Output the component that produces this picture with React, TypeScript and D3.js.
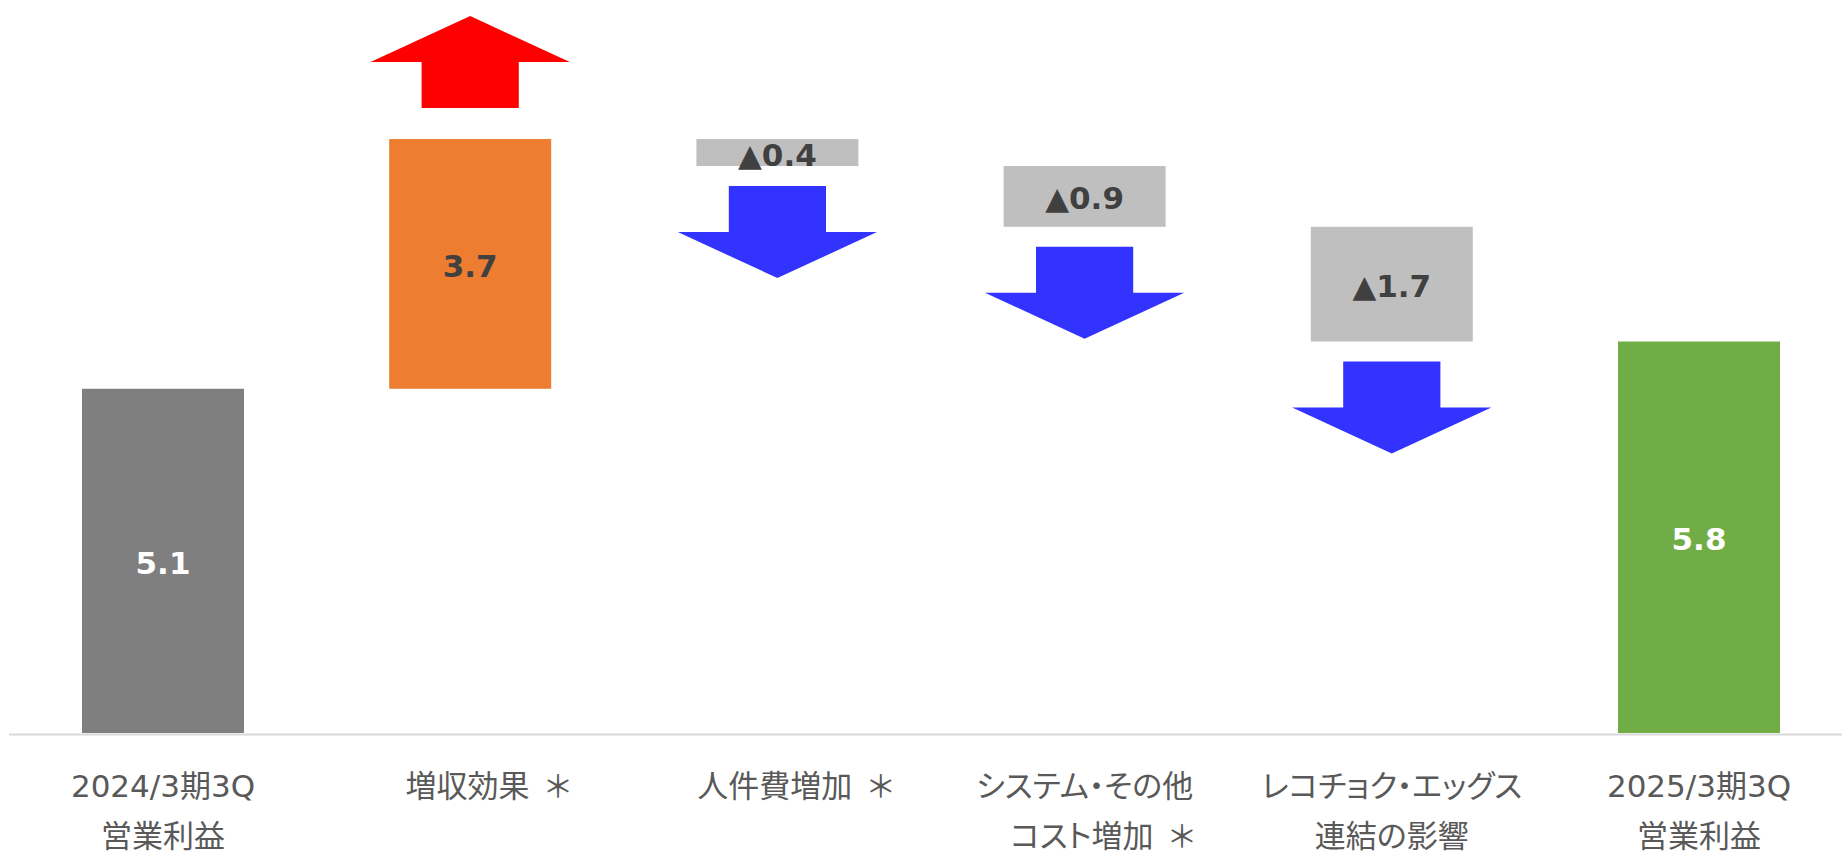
import React from "react";
import * as d3 from "d3";

// ---- data ----
const categoryIds = ["prev", "sales", "labor", "system", "recochoku", "curr"];
const categoryLines: string[][] = [
  ["2024/3期3Q", "営業利益"],
  ["増収効果 ＊"],
  ["人件費増加 ＊"],
  ["システム・その他", "コスト増加 ＊"],
  ["レコチョク・エッグス", "連結の影響"],
  ["2025/3期3Q", "営業利益"],
];
const kinds = ["total", "increase", "decrease", "decrease", "decrease", "total"];
const values = [5.1, 3.7, -0.4, -0.9, -1.7, 5.8];
const valueLabels = ["5.1", "3.7", "▲0.4", "▲0.9", "▲1.7", "5.8"];
const barColors = ["#7F7F7F", "#ED7D31", "#BFBFBF", "#BFBFBF", "#BFBFBF", "#70AD47"];
const labelColors = ["#FFFFFF", "#404040", "#404040", "#404040", "#404040", "#FFFFFF"];

const W = 1842;
const H = 854;

export default function App() {
  const baseY = 733;
  const y = d3.scaleLinear().domain([0, 10.86]).range([baseY, 0]);
  const x = d3
    .scaleBand<string>()
    .domain(categoryIds)
    .range([9.4, 1852.6])
    .paddingInner(0.4727)
    .paddingOuter(0.23635);
  const bw = x.bandwidth();

  // waterfall segments
  let cum = 0;
  const segs = values.map((v, i) => {
    let start: number, end: number;
    if (kinds[i] === "total") {
      start = 0;
      end = v;
      cum = v;
    } else {
      start = cum;
      end = cum + v;
      cum = end;
    }
    return { id: categoryIds[i], start, end, kind: kinds[i], i };
  });

  const arrowW = bw * 1.23;
  const shaftW = bw * 0.6;
  const headH = 46;
  const arrowLen = 92;

  function arrowPath(cx: number, top: number, bottom: number, up: boolean) {
    const p = d3.path();
    if (up) {
      const hb = top + headH;
      p.moveTo(cx, top);
      p.lineTo(cx + arrowW / 2, hb);
      p.lineTo(cx + shaftW / 2, hb);
      p.lineTo(cx + shaftW / 2, bottom);
      p.lineTo(cx - shaftW / 2, bottom);
      p.lineTo(cx - shaftW / 2, hb);
      p.lineTo(cx - arrowW / 2, hb);
    } else {
      const hb = bottom - headH;
      p.moveTo(cx - shaftW / 2, top);
      p.lineTo(cx + shaftW / 2, top);
      p.lineTo(cx + shaftW / 2, hb);
      p.lineTo(cx + arrowW / 2, hb);
      p.lineTo(cx, bottom);
      p.lineTo(cx - arrowW / 2, hb);
      p.lineTo(cx - shaftW / 2, hb);
    }
    p.closePath();
    return p.toString();
  }

  const labelFont = "'DejaVu Sans', 'Noto Sans CJK JP', sans-serif";
  const numFont = "'DejaVu Sans', 'Noto Sans CJK JP', sans-serif";

  return (
    <svg
      width={W}
      height={H}
      style={{ position: "absolute", left: 0, top: 0, display: "block", background: "#fff" }}
    >
      <line x1={9} x2={W} y1={baseY + 1.5} y2={baseY + 1.5} stroke="#D9D9D9" strokeWidth={2} />
      {segs.map((s) => {
        const x0 = x(s.id)!;
        const yTop = y(Math.max(s.start, s.end));
        const yBot = y(Math.min(s.start, s.end));
        const cx = x0 + bw / 2;
        return (
          <g key={s.id}>
            <rect x={x0} y={yTop} width={bw} height={yBot - yTop} fill={barColors[s.i]} />
            <text
              x={cx}
              y={(yTop + yBot) / 2 + 2}
              textAnchor="middle"
              dominantBaseline="central"
              fontFamily={numFont}
              fontWeight="bold"
              fontSize={31}
              fill={labelColors[s.i]}
            >
              {valueLabels[s.i]}
            </text>
            {s.kind === "increase" && (
              <path
                d={arrowPath(cx, yTop - 31 - arrowLen, yTop - 31, true)}
                fill="#FF0000"
              />
            )}
            {s.kind === "decrease" && (
              <path
                d={arrowPath(cx, yBot + 20, yBot + 20 + arrowLen, false)}
                fill="#3333FF"
              />
            )}
          </g>
        );
      })}
      {categoryLines.map((lines, i) => {
        const cx = x(categoryIds[i])! + bw / 2;
        return (
          <text
            key={"lab" + i}
            textAnchor="middle"
            fontFamily={labelFont}
            fontSize={31}
            fill="#595959"
            style={{ fontFeatureSettings: "'palt'" }}
          >
            {lines.map((ln, j) => {
              const hasStar = ln.endsWith("＊");
              const main = hasStar ? ln.slice(0, -1) : ln;
              return (
                <tspan key={j} x={cx + (hasStar ? 18 : 0)} y={797 + j * 50}>
                  {main}
                  {hasStar && <tspan dx={6}>＊</tspan>}
                </tspan>
              );
            })}
          </text>
        );
      })}
    </svg>
  );
}
